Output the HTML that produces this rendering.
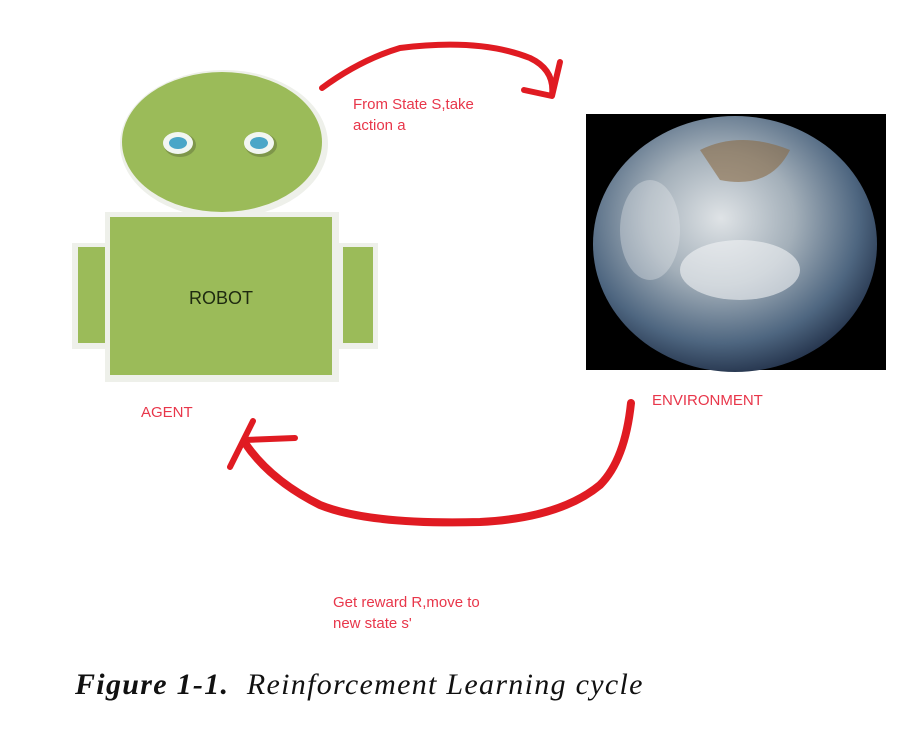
<!DOCTYPE html>
<html><head><style>
body{margin:0;background:#fff;width:908px;height:734px;overflow:hidden;position:relative;font-family:"Liberation Sans",sans-serif}
.t{position:absolute;color:#e8364a;font-size:15px;line-height:21px}
</style></head><body>
<svg width="908" height="734" style="position:absolute;left:0;top:0">
<defs>
<radialGradient id="e" cx="0.45" cy="0.4" r="0.65">
<stop offset="0" stop-color="#dfe3e6"/><stop offset="0.4" stop-color="#a3afb9"/><stop offset="0.75" stop-color="#4e6680"/><stop offset="1" stop-color="#1b2840"/>
</radialGradient>
</defs>
<ellipse cx="224" cy="144" rx="104" ry="74" fill="#eef0ea"/>
<ellipse cx="222" cy="142" rx="100" ry="70" fill="#9bbb59"/>
<rect x="72" y="243" width="40" height="106" fill="#eef0ea"/>
<rect x="78" y="247" width="32" height="96" fill="#9bbb59"/>
<rect x="338" y="243" width="40" height="106" fill="#eef0ea"/>
<rect x="343" y="247" width="30" height="96" fill="#9bbb59"/>
<rect x="105" y="212" width="234" height="170" fill="#eef0ea"/>
<rect x="110" y="217" width="222" height="158" fill="#9bbb59"/>
<ellipse cx="180" cy="145" rx="16" ry="12" fill="#7e964a"/>
<ellipse cx="178" cy="143" rx="15" ry="11" fill="#f2f6f2"/>
<ellipse cx="178" cy="143" rx="9" ry="6" fill="#4aa6c8"/>
<ellipse cx="261" cy="145" rx="16" ry="12" fill="#7e964a"/>
<ellipse cx="259" cy="143" rx="15" ry="11" fill="#f2f6f2"/>
<ellipse cx="259" cy="143" rx="9" ry="6" fill="#4aa6c8"/>
<text x="221" y="304" text-anchor="middle" font-family="Liberation Sans" font-size="18" fill="#1e2a10">ROBOT</text>
<rect x="586" y="114" width="300" height="256" fill="#000"/>
<ellipse cx="735" cy="244" rx="142" ry="128" fill="url(#e)"/>
<ellipse cx="740" cy="270" rx="60" ry="30" fill="#f2f4f5" opacity="0.6"/>
<ellipse cx="650" cy="230" rx="30" ry="50" fill="#e8ecee" opacity="0.35"/>
<path d="M700 150 Q740 130 790 150 Q770 190 720 180 Z" fill="#8b6a45" opacity="0.6"/>
<g fill="none" stroke="#e01b22" stroke-linecap="round" stroke-linejoin="round">
<path d="M322 88 Q360 60 400 48 Q480 38 530 58 Q555 70 552 95" stroke-width="6"/>
<path d="M524 90 L552 96 L560 62" stroke-width="6"/>
<path d="M631 403 Q625 460 600 485 Q560 518 480 522 Q370 525 320 505 Q270 480 245 443" stroke-width="8"/>
<path d="M230 467 L253 421 M245 440 L295 438" stroke-width="6"/>
</g>
</svg>
<div class="t" style="left:353px;top:94px">From State S,take<br>action a</div>
<div class="t" style="left:141px;top:402px">AGENT</div>
<div class="t" style="left:652px;top:390px">ENVIRONMENT</div>
<div class="t" style="left:333px;top:592px">Get reward R,move to<br>new state s'</div>
<div style="position:absolute;left:75px;top:668px;font-family:'Liberation Serif',serif;font-style:italic;font-size:30px;letter-spacing:1.3px;color:#111;white-space:nowrap"><b>Figure 1-1.</b>&nbsp; Reinforcement Learning cycle</div>
</body></html>
